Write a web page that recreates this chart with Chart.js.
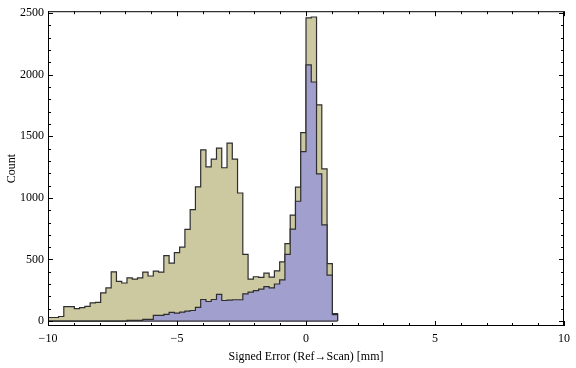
<!DOCTYPE html>
<html>
<head>
<meta charset="utf-8">
<script src="https://cdn.jsdelivr.net/npm/chart.js@4.4.0/dist/chart.umd.min.js"></script>
<style>
    html, body { margin: 0; padding: 0; background: #fff; }
    #wrap { width: 576px; height: 368px; }
</style>
</head>
<body>
<div id="wrap"><canvas id="myChart" width="576" height="368"></canvas></div>
<script>
// histogram bins: first edge and bin width (mm)
var binStart = -10;
var binWidth = 10 / 49;

// counts per bin, beige histogram (drawn underneath)
var seriesA = [29, 29, 37, 117, 117, 101, 109, 120, 147, 152,
    229, 269, 400, 323, 309, 350, 341, 350, 398, 366,
    405, 398, 531, 470, 555, 600, 745, 905, 1090, 1390,
    1252, 1315, 1405, 1245, 1445, 1315, 1040, 541, 341, 360,
    355, 389, 357, 408, 480, 629, 861, 1087, 1530, 2461,
    2469, 1755, 1235, 467, 61];

// counts per bin, blue histogram (drawn on top)
var seriesB = [0, 0, 0, 0, 0, 0, 0, 0, 0, 0,
    0, 0, 0, 0, 0, 6, 6, 6, 13, 13,
    46, 46, 54, 70, 65, 73, 81, 86, 111, 175,
    159, 175, 216, 167, 170, 173, 173, 221, 235, 248,
    259, 280, 269, 301, 335, 541, 747, 973, 1376, 2080,
    1941, 1195, 781, 373, 53];

var xTicks = [-10, -5, 0, 5, 10];
var yTicks = [0, 500, 1000, 1500, 2000, 2500];

var serif = 'Liberation Serif, Times New Roman, serif';
var edgeColor = '#2e2e2e';

function stepPoints(counts) {
    var pts = [{ x: binStart, y: 0 }];
    counts.forEach(function (c, i) {
        pts.push({ x: binStart + i * binWidth, y: c });
    });
    var end = binStart + counts.length * binWidth;
    pts.push({ x: end, y: counts[counts.length - 1] });
    pts.push({ x: end, y: 0 });
    return pts;
}

function fmt(v) {
    return v < 0 ? '\u2212' + Math.abs(v) : String(v);
}

// Mathematica style frame with inward ticks on all four sides
var frameTicks = {
    id: 'frameTicks',
    afterDatasetsDraw: function (chart) {
        var ctx = chart.ctx;
        var a = chart.chartArea;
        var sx = chart.scales.x, sy = chart.scales.y;
        ctx.save();
        ctx.strokeStyle = '#000';
        ctx.lineWidth = 1;
        ctx.strokeRect(a.left + 0.5, a.top + 0.5, a.right - a.left - 1, a.bottom - a.top - 1);
        ctx.beginPath();
        for (var v = -10; v <= 10; v++) {
            var px = Math.round(sx.getPixelForValue(v)) + 0.5;
            var len = (v % 5 === 0) ? 5 : 3;
            ctx.moveTo(px, a.bottom);
            ctx.lineTo(px, a.bottom - len);
            ctx.moveTo(px, a.top);
            ctx.lineTo(px, a.top + len);
        }
        for (var w = 0; w <= 2500; w += 100) {
            var py = Math.round(sy.getPixelForValue(w)) + 0.5;
            var l2 = (w % 500 === 0) ? 5 : 3;
            ctx.moveTo(a.left, py);
            ctx.lineTo(a.left + l2, py);
            ctx.moveTo(a.right, py);
            ctx.lineTo(a.right - l2, py);
        }
        ctx.stroke();
        ctx.restore();
    }
};

var ctx = document.getElementById('myChart');
var endX = binStart + seriesA.length * binWidth;

new Chart(ctx, {
    type: 'line',
    data: {
        datasets: [{
            data: [{ x: binStart, y: 0 }, { x: endX, y: 0 }],
            borderColor: edgeColor,
            borderWidth: 1.2,
            fill: false,
            order: 1
        }, {
            data: stepPoints(seriesB),
            stepped: true,
            borderColor: edgeColor,
            borderWidth: 1.2,
            backgroundColor: '#a19fcd',
            fill: 'origin',
            order: 2
        }, {
            data: stepPoints(seriesA),
            stepped: true,
            borderColor: edgeColor,
            borderWidth: 1.2,
            backgroundColor: '#ccc8a0',
            fill: 'origin',
            order: 3
        }]
    },
    options: {
        responsive: false,
        animation: false,
        layout: { padding: { left: 0, right: 10, top: 6, bottom: 0 } },
        elements: { point: { radius: 0 }, line: { tension: 0 } },
        plugins: {
            legend: { display: false },
            tooltip: { enabled: false }
        },
        scales: {
            x: {
                type: 'linear',
                min: -10,
                max: 10,
                afterBuildTicks: function (s) {
                    s.ticks = xTicks.map(function (v) { return { value: v }; });
                },
                afterFit: function (s) { s.height = 42; },
                grid: { display: false, drawTicks: false },
                border: { display: false },
                ticks: {
                    color: '#000',
                    padding: 6,
                    maxRotation: 0,
                    autoSkip: false,
                    font: { family: serif, size: 12 },
                    callback: fmt
                },
                title: {
                    display: true,
                    text: 'Signed Error (Ref\u2192Scan) [mm]',
                    color: '#000',
                    font: { family: serif, size: 12 },
                    padding: { top: 0, bottom: 4 }
                }
            },
            y: {
                min: -40,
                max: 2516,
                afterBuildTicks: function (s) {
                    s.ticks = yTicks.map(function (v) { return { value: v }; });
                },
                afterFit: function (s) { s.width = 48; },
                grid: { display: false, drawTicks: false },
                border: { display: false },
                ticks: {
                    color: '#000',
                    padding: 4,
                    font: { family: serif, size: 12 },
                    callback: fmt
                },
                title: {
                    display: true,
                    text: 'Count',
                    color: '#000',
                    font: { family: serif, size: 12 },
                    padding: { top: 5, bottom: 0 }
                }
            }
        }
    },
    plugins: [frameTicks]
});
</script>
</body>
</html>
